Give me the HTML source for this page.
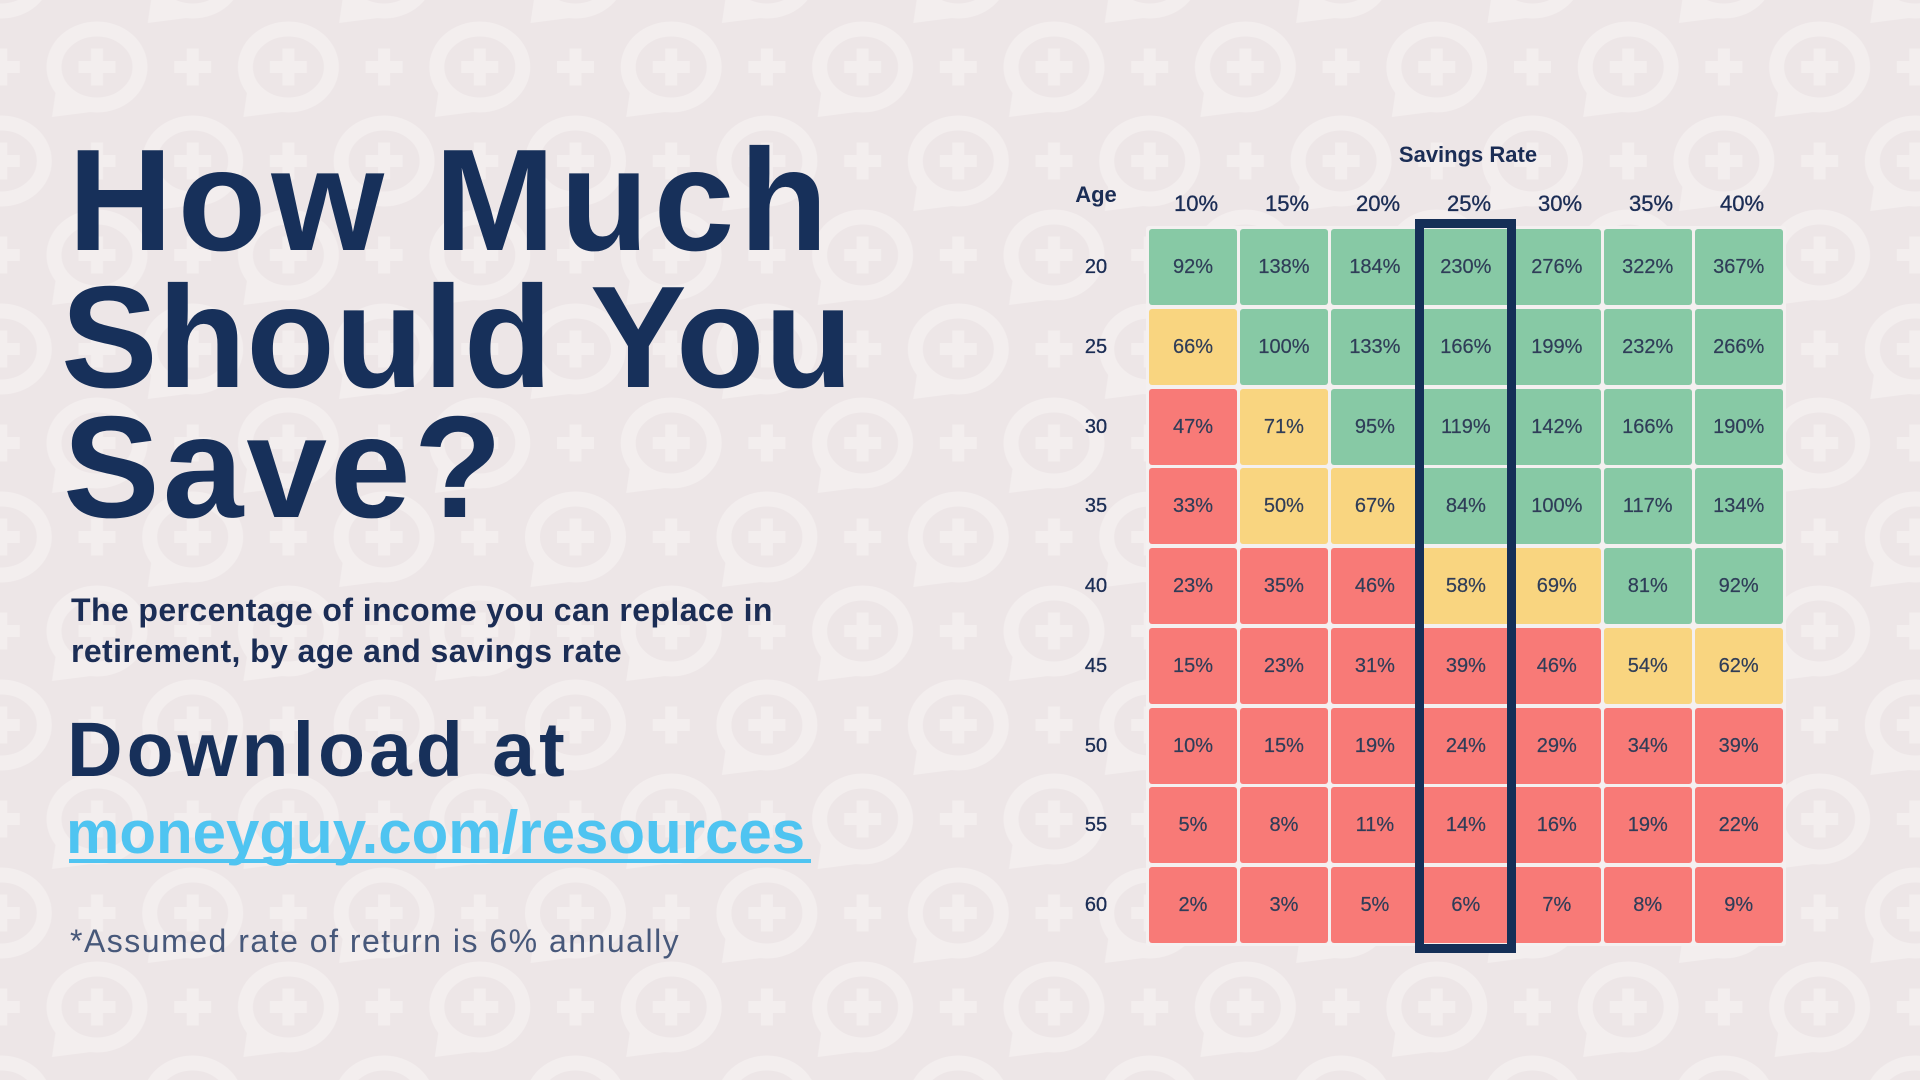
<!DOCTYPE html>
<html>
<head>
<meta charset="utf-8">
<style>
  html, body { margin:0; padding:0; }
  body { width:1920px; height:1080px; overflow:hidden; position:relative; background:#ede6e7; font-family:"Liberation Sans", Arial, sans-serif; }
  .t { position:absolute; white-space:nowrap; line-height:1; }
  .title { font-weight:bold; font-size:145px; color:#17305a; }
  .cell { position:absolute; width:88px; height:76px; border-radius:3px; text-align:center; line-height:76px; font-size:20px; color:#2f3d58; -webkit-text-stroke:0.2px #2f3d58; }
  .g { background:#87c9a5; }
  .y { background:#f9d580; }
  .r { background:#f87a77; }
  .rl { position:absolute; left:1066px; width:60px; height:76px; line-height:76px; text-align:center; font-size:20px; color:#1b2d55; -webkit-text-stroke:0.3px #1b2d55; }
  .ch { position:absolute; width:88px; top:193px; line-height:22px; height:22px; text-align:center; font-size:22px; color:#1b2d55; -webkit-text-stroke:0.35px #1b2d55; }
</style>
</head>
<body>
<svg width="1920" height="1080" style="position:absolute;left:0;top:0">
  <defs>
    <g id="bub">
      <ellipse cx="0" cy="0" rx="43" ry="38" fill="none" stroke="#f3eeee" stroke-width="15"/>
      <polygon points="-40,16 -45,50 -6,45 -22,30" fill="#f3eeee"/>
      <rect x="-18.5" y="-6" width="37" height="12" fill="#f3eeee"/>
      <rect x="-6" y="-18.5" width="12" height="37" fill="#f3eeee"/>
    </g>
    <g id="pl">
      <rect x="-18.5" y="-6" width="37" height="12" fill="#f3eeee"/>
      <rect x="-6" y="-18.5" width="12" height="37" fill="#f3eeee"/>
    </g>
    <pattern id="pat" patternUnits="userSpaceOnUse" x="1.3" y="-27" width="191.4" height="188">
      <use href="#bub" x="0" y="0"/>
      <use href="#bub" x="191.4" y="0"/>
      <use href="#bub" x="0" y="188"/>
      <use href="#bub" x="191.4" y="188"/>
      <use href="#bub" x="95.7" y="94"/>
      <use href="#pl" x="95.7" y="0"/>
      <use href="#pl" x="95.7" y="188"/>
      <use href="#pl" x="0" y="94"/>
      <use href="#pl" x="191.4" y="94"/>
    </pattern>
  </defs>
  <rect x="0" y="0" width="1920" height="1080" fill="#ede6e7"/>
  <rect x="0" y="0" width="1920" height="1080" fill="url(#pat)"/>
</svg>

<!-- Left side text -->
<div class="t title" style="left:68px;top:128px;letter-spacing:5px;">How Much</div>
<div class="t title" style="left:61px;top:265px;letter-spacing:0px;">Should You</div>
<div class="t title" style="left:63px;top:395px;letter-spacing:3px;">Save?</div>

<div class="t" style="left:71px;top:594px;font-size:32px;font-weight:bold;color:#1b2d55;letter-spacing:0.4px;">The percentage of income you can replace in</div>
<div class="t" style="left:71px;top:635px;font-size:32px;font-weight:bold;color:#1b2d55;letter-spacing:0.4px;">retirement, by age and savings rate</div>

<div class="t" style="left:67px;top:712px;font-size:77px;font-weight:bold;color:#17305a;letter-spacing:4px;">Download at</div>

<div class="t" style="left:66px;top:803px;font-size:60px;font-weight:bold;color:#4fc4f1;">moneyguy.com/resources</div>
<div style="position:absolute;left:69px;top:859px;width:742px;height:4px;background:#4fc4f1;"></div>

<div class="t" style="left:70px;top:925px;font-size:32px;color:#47587a;letter-spacing:1.5px;">*Assumed rate of return is 6% annually</div>

<!-- Table headers -->
<div class="t" style="left:1368px;top:144px;width:200px;text-align:center;font-size:22px;font-weight:bold;color:#1b2d55;">Savings Rate</div>
<div class="t" style="left:1046px;top:184px;width:100px;text-align:center;font-size:22px;font-weight:bold;color:#1b2d55;">Age</div>

<div class="ch" style="left:1152px;">10%</div>
<div class="ch" style="left:1243px;">15%</div>
<div class="ch" style="left:1334px;">20%</div>
<div class="ch" style="left:1425px;">25%</div>
<div class="ch" style="left:1516px;">30%</div>
<div class="ch" style="left:1607px;">35%</div>
<div class="ch" style="left:1698px;">40%</div>

<!-- grid background -->
<div style="position:absolute;left:1146px;top:226px;width:640px;height:720px;background:#f4f0f0;border-radius:3px;"></div>

<!-- Row labels -->
<div class="rl" style="top:229px;">20</div>
<div class="rl" style="top:308.75px;">25</div>
<div class="rl" style="top:388.5px;">30</div>
<div class="rl" style="top:468.25px;">35</div>
<div class="rl" style="top:548px;">40</div>
<div class="rl" style="top:627.75px;">45</div>
<div class="rl" style="top:707.5px;">50</div>
<div class="rl" style="top:787.25px;">55</div>
<div class="rl" style="top:867px;">60</div>

<!-- Row 20 -->
<div class="cell g" style="left:1149px;top:229px;">92%</div>
<div class="cell g" style="left:1239.95px;top:229px;">138%</div>
<div class="cell g" style="left:1330.9px;top:229px;">184%</div>
<div class="cell g" style="left:1421.85px;top:229px;">230%</div>
<div class="cell g" style="left:1512.8px;top:229px;">276%</div>
<div class="cell g" style="left:1603.75px;top:229px;">322%</div>
<div class="cell g" style="left:1694.7px;top:229px;">367%</div>
<!-- Row 25 -->
<div class="cell y" style="left:1149px;top:308.75px;">66%</div>
<div class="cell g" style="left:1239.95px;top:308.75px;">100%</div>
<div class="cell g" style="left:1330.9px;top:308.75px;">133%</div>
<div class="cell g" style="left:1421.85px;top:308.75px;">166%</div>
<div class="cell g" style="left:1512.8px;top:308.75px;">199%</div>
<div class="cell g" style="left:1603.75px;top:308.75px;">232%</div>
<div class="cell g" style="left:1694.7px;top:308.75px;">266%</div>
<!-- Row 30 -->
<div class="cell r" style="left:1149px;top:388.5px;">47%</div>
<div class="cell y" style="left:1239.95px;top:388.5px;">71%</div>
<div class="cell g" style="left:1330.9px;top:388.5px;">95%</div>
<div class="cell g" style="left:1421.85px;top:388.5px;">119%</div>
<div class="cell g" style="left:1512.8px;top:388.5px;">142%</div>
<div class="cell g" style="left:1603.75px;top:388.5px;">166%</div>
<div class="cell g" style="left:1694.7px;top:388.5px;">190%</div>
<!-- Row 35 -->
<div class="cell r" style="left:1149px;top:468.25px;">33%</div>
<div class="cell y" style="left:1239.95px;top:468.25px;">50%</div>
<div class="cell y" style="left:1330.9px;top:468.25px;">67%</div>
<div class="cell g" style="left:1421.85px;top:468.25px;">84%</div>
<div class="cell g" style="left:1512.8px;top:468.25px;">100%</div>
<div class="cell g" style="left:1603.75px;top:468.25px;">117%</div>
<div class="cell g" style="left:1694.7px;top:468.25px;">134%</div>
<!-- Row 40 -->
<div class="cell r" style="left:1149px;top:548px;">23%</div>
<div class="cell r" style="left:1239.95px;top:548px;">35%</div>
<div class="cell r" style="left:1330.9px;top:548px;">46%</div>
<div class="cell y" style="left:1421.85px;top:548px;">58%</div>
<div class="cell y" style="left:1512.8px;top:548px;">69%</div>
<div class="cell g" style="left:1603.75px;top:548px;">81%</div>
<div class="cell g" style="left:1694.7px;top:548px;">92%</div>
<!-- Row 45 -->
<div class="cell r" style="left:1149px;top:627.75px;">15%</div>
<div class="cell r" style="left:1239.95px;top:627.75px;">23%</div>
<div class="cell r" style="left:1330.9px;top:627.75px;">31%</div>
<div class="cell r" style="left:1421.85px;top:627.75px;">39%</div>
<div class="cell r" style="left:1512.8px;top:627.75px;">46%</div>
<div class="cell y" style="left:1603.75px;top:627.75px;">54%</div>
<div class="cell y" style="left:1694.7px;top:627.75px;">62%</div>
<!-- Row 50 -->
<div class="cell r" style="left:1149px;top:707.5px;">10%</div>
<div class="cell r" style="left:1239.95px;top:707.5px;">15%</div>
<div class="cell r" style="left:1330.9px;top:707.5px;">19%</div>
<div class="cell r" style="left:1421.85px;top:707.5px;">24%</div>
<div class="cell r" style="left:1512.8px;top:707.5px;">29%</div>
<div class="cell r" style="left:1603.75px;top:707.5px;">34%</div>
<div class="cell r" style="left:1694.7px;top:707.5px;">39%</div>
<!-- Row 55 -->
<div class="cell r" style="left:1149px;top:787.25px;">5%</div>
<div class="cell r" style="left:1239.95px;top:787.25px;">8%</div>
<div class="cell r" style="left:1330.9px;top:787.25px;">11%</div>
<div class="cell r" style="left:1421.85px;top:787.25px;">14%</div>
<div class="cell r" style="left:1512.8px;top:787.25px;">16%</div>
<div class="cell r" style="left:1603.75px;top:787.25px;">19%</div>
<div class="cell r" style="left:1694.7px;top:787.25px;">22%</div>
<!-- Row 60 -->
<div class="cell r" style="left:1149px;top:867px;">2%</div>
<div class="cell r" style="left:1239.95px;top:867px;">3%</div>
<div class="cell r" style="left:1330.9px;top:867px;">5%</div>
<div class="cell r" style="left:1421.85px;top:867px;">6%</div>
<div class="cell r" style="left:1512.8px;top:867px;">7%</div>
<div class="cell r" style="left:1603.75px;top:867px;">8%</div>
<div class="cell r" style="left:1694.7px;top:867px;">9%</div>

<!-- Highlight box for 25% column -->
<div style="position:absolute;left:1415px;top:219px;width:101px;height:734px;box-sizing:border-box;border:9px solid #152f57;"></div>
</body>
</html>
